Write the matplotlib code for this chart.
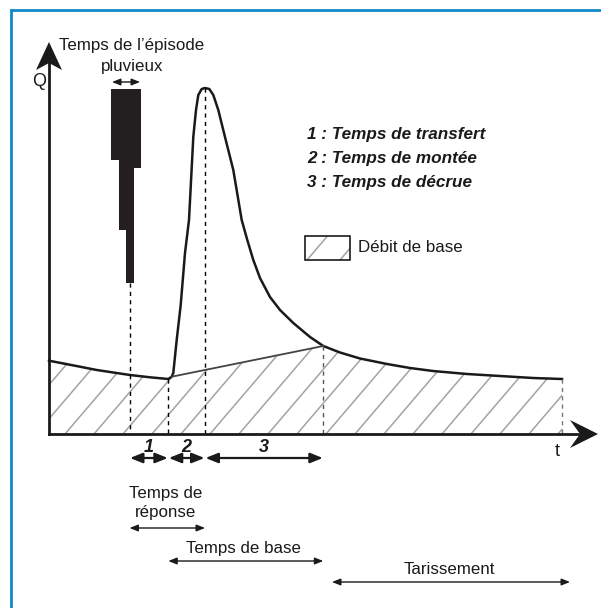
import numpy as np
import matplotlib.pyplot as plt
from matplotlib.patches import Polygon, Rectangle
from matplotlib.collections import LineCollection
from matplotlib.lines import Line2D

plt.rcParams['font.family'] = ['Liberation Sans', 'DejaVu Sans']

# Hydrogramme (t, Q)
t_crue = [0, 31, 47.7, 81, 101, 119.3, 122.7, 124.3, 127.7, 131.7, 136, 140, 144.3,
          147, 149.3, 152.7, 156, 160.3, 164.3, 169.3, 176, 184.3, 192.7, 198.3, 204.3,
          211, 221, 231, 244.3, 261, 274.3, 291, 311, 338, 361, 384, 418, 451, 484, 513]
q_crue = [73.3, 67.3, 64, 59, 56.7, 55, 57.3, 61, 94, 129, 181, 214, 297,
          324, 339, 345, 346, 345, 339, 324, 297, 264, 214, 194, 174,
          156, 137, 124, 111, 97, 88, 81.5, 75.5, 70, 66, 63, 60, 58, 56, 55]

# Séparation du débit de base (entre la reprise et le point d'inflexion)
t_sep = [122.7, 274.3]
q_sep = [57.3, 88]

# Hyétogramme (barres suspendues)
t_pluie = [62, 69.5, 77, 84.5]
largeur_pluie = 7.5
haut_pluie = 345
hauteur_pluie = [71, 141, 194, 79]

# Temps caractéristiques
t_debut_pluie = 80.5
t_debut_crue = 119.3
t_pic = 156
t_inflexion = 274.3
t_fin = 513
t_max, q_max = 549, 392

fig = plt.figure(figsize=(6.01, 6.08), dpi=100)
ax = fig.add_axes([0, 0, 1, 1])
ax.set_xlim(-49, 552)
ax.set_ylim(-174, 434)
ax.axis('off')

# cadre bleu
bleu = '#1189c8'
fig.add_artist(Line2D([11 / 601, 11 / 601], [0, 1 - 10 / 608], color=bleu, lw=2, transform=fig.transFigure))
fig.add_artist(Line2D([11 / 601, 1], [1 - 10 / 608, 1 - 10 / 608], color=bleu, lw=2, transform=fig.transFigure))

# zone du débit de base (hachurée)
t_c = np.array(t_crue)
q_c = np.array(q_crue)
avant = t_c <= t_sep[0]
apres = t_c >= t_sep[1]
haut_t = list(t_c[avant]) + list(t_c[apres])
haut_q = list(q_c[avant]) + list(q_c[apres])
zone = Polygon(list(zip(haut_t, haut_q)) + [(t_fin, 0), (0, 0)], closed=True,
               facecolor='none', edgecolor='none')
ax.add_patch(zone)

PENTE = 1.17


def hachures(clip, bases, q0=0):
    # bases : abscisses où les hachures coupent la ligne Q = q0
    lc = LineCollection([[(b - 300, q0 - 300 * PENTE), (b + 500, q0 + 500 * PENTE)] for b in bases],
                        colors='#a3a3a3', linewidths=1.1)
    ax.add_collection(lc)
    lc.set_clip_path(clip)


hachures(zone, np.arange(16 - 29 * 14, t_fin + 29, 29))

# courbe et séparation
ax.plot(t_crue, q_crue, color='#1a1a1a', lw=1.8, solid_joinstyle='round')
ax.plot(t_sep, q_sep, color='#444444', lw=1.3)

# pluie
ax.bar(t_pluie, hauteur_pluie, width=largeur_pluie,
       bottom=[haut_pluie - h for h in hauteur_pluie], align='edge',
       color='#231f20', lw=0, antialiased=False)

# verticales pointillées
bas_pluie = haut_pluie - max(hauteur_pluie)
ax.plot([t_debut_pluie] * 2, [bas_pluie, 0], color='k', lw=1, ls=(0, (3, 3)))
ax.plot([t_debut_crue] * 2, [min(q_crue), 0], color='k', lw=1, ls=(0, (3, 3)))
ax.plot([t_pic] * 2, [max(q_crue), 0], color='k', lw=1, ls=(0, (3, 3)))
ax.plot([t_inflexion] * 2, [q_sep[1], 0], color='#555555', lw=1, ls=(0, (3, 3)))
ax.plot([t_fin] * 2, [q_crue[-1], 0], color='#777777', lw=1, ls=(0, (3, 3)))

# axes avec flèches
ax.plot([0, 0], [0, q_max - 20], color='#1a1a1a', lw=2)
ax.plot([0, t_max - 20], [0, 0], color='#1a1a1a', lw=2)
ax.add_patch(Polygon([(0, q_max), (-13, q_max - 28), (0, q_max - 21), (13, q_max - 28)],
                     closed=True, color='#1a1a1a', lw=0))
ax.add_patch(Polygon([(t_max, 0), (t_max - 28, 14), (t_max - 18, 0), (t_max - 28, -14)],
                     closed=True, color='#1a1a1a', lw=0))
ax.text(-10, 352, 'Q', fontsize=13, ha='center', va='center', color='#1a1a1a')
ax.text(508, -18, 't', fontsize=13, ha='center', va='center', color='#1a1a1a')


def fleche(x0, x1, y, gros=False):
    if gros:
        style, lw = '<|-|>,head_length=7.5,head_width=3', 1.6
    else:
        style, lw = '<|-|>,head_length=5,head_width=2', 1
    ax.annotate('', xy=(x1, y), xytext=(x0, y),
                arrowprops=dict(arrowstyle=style, mutation_scale=1, lw=lw,
                                color='#1a1a1a', shrinkA=0, shrinkB=0))


# 1, 2, 3
bornes = [t_debut_pluie, t_debut_crue, t_pic, t_inflexion]
for i in range(3):
    fleche(bornes[i] + 0.5, bornes[i + 1] - 0.5, -24, gros=True)
    ax.text((bornes[i] + bornes[i + 1]) / 2, -13, str(i + 1), fontsize=13,
            fontweight='bold', fontstyle='italic', ha='center', va='center', color='#1a1a1a')

fleche(63, 91, 352)
ax.text(83, 378, 'Temps de l’épisode\npluvieux', fontsize=12.2, ha='center', va='center',
        linespacing=1.45, color='#1a1a1a')

fleche(t_debut_pluie, t_pic, -94)
ax.text(117, -69, 'Temps de\nréponse', fontsize=12.2, ha='center', va='center',
        linespacing=1.38, color='#1a1a1a')
fleche(t_debut_crue, t_inflexion, -127)
ax.text(195, -114, 'Temps de base', fontsize=12.2, ha='center', va='center', color='#1a1a1a')
fleche(283, 521, -148)
ax.text(400, -136, 'Tarissement', fontsize=12.2, ha='center', va='center', color='#1a1a1a')

# légende
legende = ['1 : Temps de transfert', '2 : Temps de montée', '3 : Temps de décrue']
for i, txt in enumerate(legende):
    ax.text(258, 299 - 24 * i, txt, fontsize=12.3, fontweight='bold', fontstyle='italic',
            ha='left', va='center', color='#1a1a1a')

boite = Rectangle((256, 174), 45, 24, facecolor='white', edgecolor='none')
ax.add_patch(boite)
hachures(boite, [258, 291], q0=174)
ax.add_patch(Rectangle((256, 174), 45, 24, facecolor='none', edgecolor='#1a1a1a', lw=1.2, zorder=3))
ax.text(309, 186, 'Débit de base', fontsize=12.2, ha='left', va='center', color='#1a1a1a')

fig.savefig('out.png', dpi=100)
